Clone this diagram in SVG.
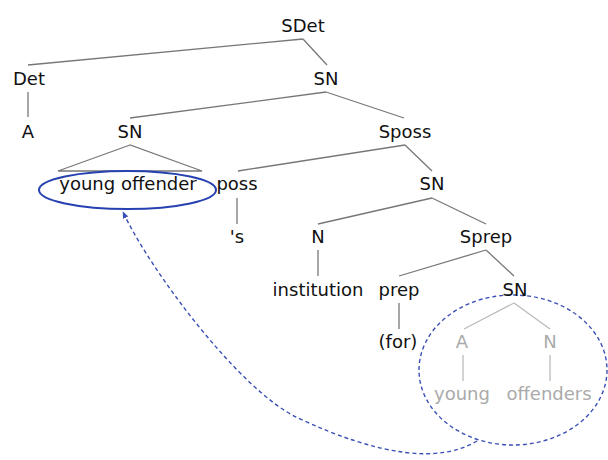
<svg xmlns="http://www.w3.org/2000/svg" width="608" height="460" viewBox="0 0 608 460">
<style>
text{font-family:"DejaVu Sans",sans-serif;font-size:18px;fill:#111;text-anchor:middle}
text.g{fill:#aaa}
.e{stroke:#777;stroke-width:1.3;fill:none}
.eg{stroke:#bbb;stroke-width:1.3;fill:none}
.sel{stroke:#2742b0;stroke-width:2;fill:none}
.dash{stroke:#3a4fb5;stroke-width:1.4;fill:none;stroke-dasharray:4 3}
</style>
<defs>
<marker id="ah" viewBox="0 0 10 10" refX="9" refY="5" markerWidth="7" markerHeight="7" orient="auto" markerUnits="userSpaceOnUse">
<path d="M0,1 L10,5 L0,9 Z" fill="#3a4fb5"/>
</marker>
</defs>
<rect width="608" height="460" fill="#fff"/>
<g id="connectors">
<line class="e" x1="303" y1="39" x2="28" y2="65"/>
<line class="e" x1="303" y1="39" x2="327" y2="65"/>
<line class="e" x1="28" y1="92" x2="28" y2="117"/>
<line class="e" x1="326" y1="92" x2="130" y2="118"/>
<line class="e" x1="326" y1="92" x2="404" y2="118"/>
<path class="e" d="M130,145 L58,171 L202,171 Z"/>
<line class="e" x1="405" y1="145" x2="238" y2="171"/>
<line class="e" x1="405" y1="145" x2="432" y2="171"/>
<line class="e" x1="237" y1="198" x2="237" y2="224"/>
<line class="e" x1="432" y1="198" x2="318" y2="224"/>
<line class="e" x1="432" y1="198" x2="486" y2="224"/>
<line class="e" x1="318" y1="250" x2="318" y2="276"/>
<line class="e" x1="486" y1="250" x2="399" y2="276"/>
<line class="e" x1="486" y1="250" x2="514" y2="276"/>
<line class="e" x1="399" y1="303" x2="399" y2="329"/>
<line class="eg" x1="514" y1="303" x2="464" y2="329"/>
<line class="eg" x1="514" y1="303" x2="550" y2="329"/>
<line class="eg" x1="463" y1="355" x2="463" y2="381"/>
<line class="eg" x1="550" y1="355" x2="550" y2="381"/>
<path class="dash" d="M477,441 Q420,475 298,418 C240,391 150,270 123,212" marker-end="url(#ah)"/>
</g>
<g id="sel-young-offender"><ellipse class="sel" cx="127.5" cy="190" rx="88.5" ry="19"/></g>
<g id="sel-sn-young-offenders"><ellipse class="dash" cx="513" cy="370" rx="94" ry="75"/></g>
<g id="n-sdet"><text x="303" y="32">SDet</text></g>
<g id="n-det"><text x="29" y="85">Det</text></g>
<g id="n-sn1"><text x="326" y="85">SN</text></g>
<g id="n-a"><text x="28" y="138">A</text></g>
<g id="n-sn2"><text x="130" y="138">SN</text></g>
<g id="n-sposs"><text x="405" y="138">Sposs</text></g>
<g id="n-young-offender"><text x="128" y="190">young offender</text></g>
<g id="n-poss"><text x="237" y="190">poss</text></g>
<g id="n-sn3"><text x="432" y="190">SN</text></g>
<g id="n-s"><text x="237" y="243">'s</text></g>
<g id="n-n"><text x="318" y="243">N</text></g>
<g id="n-sprep"><text x="486" y="243">Sprep</text></g>
<g id="n-institution"><text x="318" y="296">institution</text></g>
<g id="n-prep"><text x="399" y="296">prep</text></g>
<g id="n-sn4"><text x="515" y="296">SN</text></g>
<g id="n-for"><text x="398" y="348">(for)</text></g>
<g id="n-a2"><text class="g" x="462" y="348">A</text></g>
<g id="n-n2"><text class="g" x="550" y="348">N</text></g>
<g id="n-young"><text class="g" x="462" y="400">young</text></g>
<g id="n-offenders"><text class="g" x="549" y="400">offenders</text></g>
</svg>
